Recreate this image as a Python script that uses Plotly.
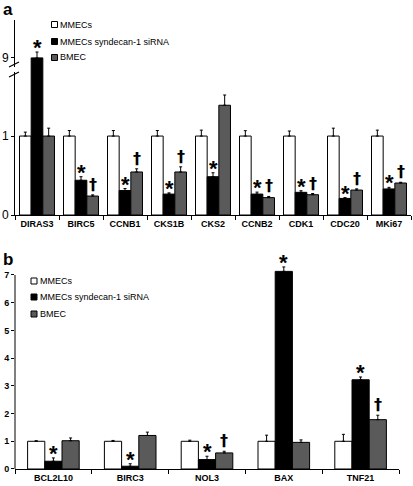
import plotly.graph_objects as go

# ---------------- data ----------------
genes_a = ["DIRAS3", "BIRC5", "CCNB1", "CKS1B", "CKS2", "CCNB2", "CDK1", "CDC20", "MKi67"]
mmec_a = [1.0, 1.0, 1.0, 1.0, 1.0, 1.0, 1.0, 1.0, 1.0]
mmec_a_err = [0.05, 0.07, 0.07, 0.07, 0.075, 0.068, 0.064, 0.1, 0.075]
sirna_a = [9.0, 0.44, 0.31, 0.265, 0.485, 0.265, 0.287, 0.21, 0.33]
sirna_a_err = [0.6, 0.045, 0.025, 0.015, 0.05, 0.025, 0.02, 0.01, 0.02]
bmec_a = [1.0, 0.24, 0.545, 0.545, 1.39, 0.22, 0.257, 0.316, 0.405]
bmec_a_err = [0.1, 0.015, 0.04, 0.065, 0.13, 0.015, 0.015, 0.015, 0.01]
star_a = [True, True, True, True, True, True, True, True, True]
dagger_a = [False, True, True, True, False, True, True, True, True]

genes_b = ["BCL2L10", "BIRC3", "NOL3", "BAX", "TNF21"]
mmec_b = [1.0, 1.0, 1.0, 1.0, 1.0]
mmec_b_err = [0.02, 0.03, 0.04, 0.22, 0.25]
sirna_b = [0.28, 0.1, 0.34, 7.13, 3.22]
sirna_b_err = [0.12, 0.09, 0.12, 0.16, 0.1]
bmec_b = [1.02, 1.21, 0.58, 0.96, 1.78]
bmec_b_err = [0.1, 0.12, 0.06, 0.09, 0.16]
star_b = [True, True, True, True, True]
dagger_b = [False, False, True, False, True]

series_names = ["MMECs", "MMECs syndecan-1 siRNA", "BMEC"]
yticks_a = [0, 1, 9]
yticks_b = [0, 1, 2, 3, 4, 5, 6, 7]

# ---------------- styling ----------------
FONT = "Liberation Sans, Arial, sans-serif"
DAGGER_FONT = "DejaVu Sans, Liberation Sans, sans-serif"
COLORS = ["#ffffff", "#000000", "#5a5a5a"]
W, H = 413, 486
ML, MR, MT, MB = 15, 2, 20, 17
PW, PH = W - ML - MR, H - MT - MB

def px(x):
    return (x - ML) / PW

def py(y):
    return (H - MB - y) / PH

# broken axis for panel a: linear up to 2, then values around 9 compressed
BREAK_POS = 1.99
BREAK_SCALE = 0.124

def disp(v):
    return v if v <= 2 else BREAK_POS + (v - 9) * BREAK_SCALE

fig = go.Figure()

def add_panel(genes, vals, errs, xa, ya, width, tf):
    n = len(genes)
    for k, (name, v, e) in enumerate(zip(series_names, vals, errs)):
        dv = [tf(a) for a in v]
        de = [tf(a + b) - tf(a) for a, b in zip(v, e)]
        fig.add_trace(go.Bar(
            x=genes, y=dv, name=name, xaxis=xa, yaxis=ya,
            width=width, offset=(k - 1.5) * width,
            marker=dict(color=COLORS[k], line=dict(color="black", width=1)),
            error_y=dict(type="data", array=de, arrayminus=[0] * n, symmetric=False,
                         color="black", thickness=1, width=1.5),
            showlegend=False, hoverinfo="x+y",
        ))

WA, WB = 0.265, 0.224
add_panel(genes_a, [mmec_a, sirna_a, bmec_a], [mmec_a_err, sirna_a_err, bmec_a_err], "x", "y", WA, disp)
add_panel(genes_b, [mmec_b, sirna_b, bmec_b], [mmec_b_err, sirna_b_err, bmec_b_err], "x2", "y2", WB, lambda v: v)

annotations = []
def add_marks(vals, errs, flags, sym, width, k, xref, yref, tf, size, yshift, family):
    for i, (v, e, f) in enumerate(zip(vals, errs, flags)):
        if not f:
            continue
        annotations.append(dict(
            x=i + (k - 1) * width, y=tf(v + e), xref=xref, yref=yref, text=sym,
            showarrow=False, yanchor="bottom", xanchor="center", yshift=yshift,
            font=dict(family=family, size=size, color="black"),
        ))

add_marks(sirna_a, sirna_a_err, star_a, "<b>*</b>", WA, 1, "x", "y", disp, 22, -10, FONT)
add_marks(bmec_a, bmec_a_err, dagger_a, "<b>†</b>", WA, 2, "x", "y", disp, 16, -1, DAGGER_FONT)
add_marks(sirna_b, sirna_b_err, star_b, "<b>*</b>", WB, 1, "x2", "y2", lambda v: v, 22, -10, FONT)
add_marks(bmec_b, bmec_b_err, dagger_b, "<b>†</b>", WB, 2, "x2", "y2", lambda v: v, 16, -1, DAGGER_FONT)

# panel letters
annotations.append(dict(x=px(1), y=py(10), xref="paper", yref="paper", text="<b>a</b>",
                        showarrow=False, xanchor="left", yanchor="middle",
                        font=dict(family=FONT, size=17, color="black")))
annotations.append(dict(x=px(1), y=py(259), xref="paper", yref="paper", text="<b>b</b>",
                        showarrow=False, xanchor="left", yanchor="middle",
                        font=dict(family=FONT, size=17, color="black")))

# custom legends
shapes = []
def add_legend(x_sq, x_txt, ys):
    for k, (name, yy) in enumerate(zip(series_names, ys)):
        shapes.append(dict(type="rect", xref="paper", yref="paper",
                           xsizemode="pixel", ysizemode="pixel",
                           xanchor=px(x_sq), yanchor=py(yy), x0=-3, x1=3, y0=-3, y1=3,
                           fillcolor=COLORS[k], line=dict(color="black", width=1)))
        annotations.append(dict(x=px(x_txt), y=py(yy), xref="paper", yref="paper", text=name,
                                showarrow=False, xanchor="left", yanchor="middle",
                                font=dict(family=FONT, size=9, color="black")))

add_legend(54.5, 58, [24.5, 41.5, 57.5])
add_legend(34, 37.5, [281, 297, 314])

# axis break marks on panel a
shapes.append(dict(type="rect", xref="paper", yref="paper", x0=px(12), x1=px(18),
                   y0=py(72), y1=py(67), fillcolor="white", line=dict(width=0), layer="above"))
for yb in (67, 77):
    shapes.append(dict(type="line", xref="paper", yref="paper", x0=px(9), x1=px(19),
                       y0=py(yb), y1=py(yb - 5), line=dict(color="black", width=1.2), layer="above"))

# panel b y-axis line only up to 7 (range extends above so the BAX bar is not clipped)
YB_TOP = 7.4
shapes.append(dict(type="line", xref="x2 domain", yref="y2", x0=0, x1=0, y0=0, y1=yticks_b[-1],
                   line=dict(color="black", width=1), layer="above"))

ax_common = dict(showgrid=False, zeroline=False, linecolor="black", linewidth=1,
                 ticks="outside", tickcolor="black", automargin=False)

B_PX_PER_UNIT = (469.3 - 275) / 7

fig.update_layout(
    width=W, height=H,
    margin=dict(l=ML, r=MR, t=MT, b=MB),
    paper_bgcolor="white", plot_bgcolor="white",
    barmode="overlay",
    font=dict(family=FONT, color="black"),
    showlegend=False,
    xaxis=dict(**ax_common, showline=True, domain=[0, 1], anchor="y", type="category",
               tickson="boundaries", ticklen=4, range=[-0.5, len(genes_a) - 0.5],
               tickfont=dict(family=FONT, size=9, color="black", weight="bold")),
    yaxis=dict(**ax_common, showline=True, domain=[py(215), 1], anchor="x", range=[0, 2.47],
               tickvals=[disp(t) for t in yticks_a], ticktext=[str(t) for t in yticks_a],
               ticklen=3, tickfont=dict(family=FONT, size=12, color="black")),
    xaxis2=dict(**ax_common, showline=True, domain=[0, px(399)], anchor="y2", type="category",
                tickson="boundaries", ticklen=4, range=[-0.5, len(genes_b) - 0.5],
                tickfont=dict(family=FONT, size=9, color="black", weight="bold")),
    yaxis2=dict(**ax_common, showline=False, domain=[0, py(469.3 - YB_TOP * B_PX_PER_UNIT)],
                anchor="x2", range=[0, YB_TOP],
                tickvals=yticks_b, ticktext=[str(t) for t in yticks_b],
                ticklen=3, tickfont=dict(family=FONT, size=9, color="black", weight="bold")),
    annotations=annotations,
    shapes=shapes,
)

fig.write_html("out.html", config={"displayModeBar": False},
               post_script="document.body.style.margin='0px';")
